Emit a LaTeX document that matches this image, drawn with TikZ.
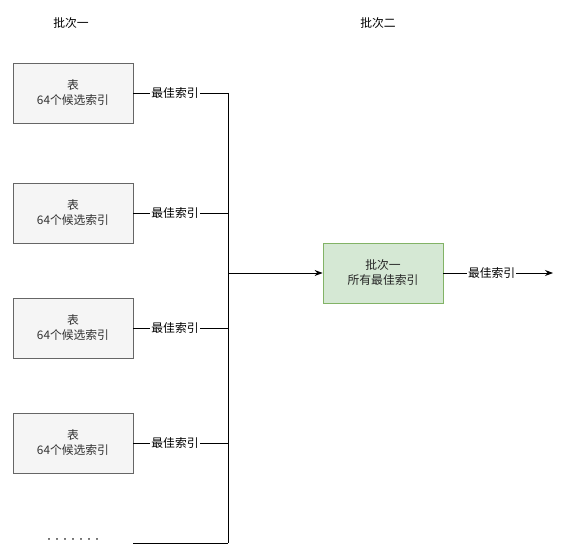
\documentclass[tikz,border=0pt]{standalone}
\usepackage{fontspec}
\setmainfont{Noto Sans CJK SC}
\usepackage{xcolor}
\usepackage{tikz}
\usetikzlibrary{arrows.meta,positioning}
\definecolor{boxfill}{HTML}{F5F5F5}
\definecolor{boxline}{HTML}{666666}
\definecolor{boxtext}{HTML}{333333}
\definecolor{mergefill}{HTML}{D5E8D4}
\definecolor{mergeline}{HTML}{82B366}
\tikzset{
  tblbox/.style={draw=boxline, fill=boxfill, text=boxtext, minimum width=120pt, minimum height=60pt,
    align=center, font=\fontsize{11.8}{15}\selectfont, line width=0.8pt},
  mergebox/.style={draw=mergeline, fill=mergefill, text=black!85, minimum width=120pt, minimum height=60pt,
    align=center, font=\fontsize{11.8}{15}\selectfont, line width=0.8pt},
  wire/.style={draw=black, line width=0.9pt},
  arr/.style={wire, -{Stealth[length=8pt,width=6pt]}},
  lbl/.style={fill=white, inner sep=1pt, font=\fontsize{11.8}{13}\selectfont},
  title/.style={font=\fontsize{11.8}{13}\selectfont}
}
\begin{document}
\begin{tikzpicture}[x=1pt, y=-1pt]
  \useasboundingbox (0,0) rectangle (569,559);

  \node[title] (b1) at (71,23) {批次一};
  \node[title] (b2) at (378,23) {批次二};

  % tables of batch one
  \foreach \i/\y in {1/93,2/213,3/328,4/443}
    \node[tblbox] (tbl\i) at (73,\y) {表\\64个候选索引};
  \node[font=\fontsize{8}{10}\selectfont] (dots) at (73,541) {·······};
  \coordinate (dotend) at (133,543);

  \coordinate (bustop) at (228,93);
  \coordinate (busbot) at (228,543);
  \draw[wire] (bustop) -- (busbot);

  \foreach \i in {1,2,3,4}
    \draw[wire] (tbl\i.east) -- node[lbl, pos=0.44] {最佳索引} (tbl\i.east -| bustop);
  \draw[wire] (dotend) -- (busbot);

  % batch two
  \node[mergebox] (merge) at (383,273) {批次一\\所有最佳索引};
  \draw[arr] (merge.west -| bustop) -- (merge.west);
  \coordinate (out) at (553,273);
  \draw[arr] (merge.east) -- node[lbl, pos=0.44] {最佳索引} (out);
\end{tikzpicture}
\end{document}
